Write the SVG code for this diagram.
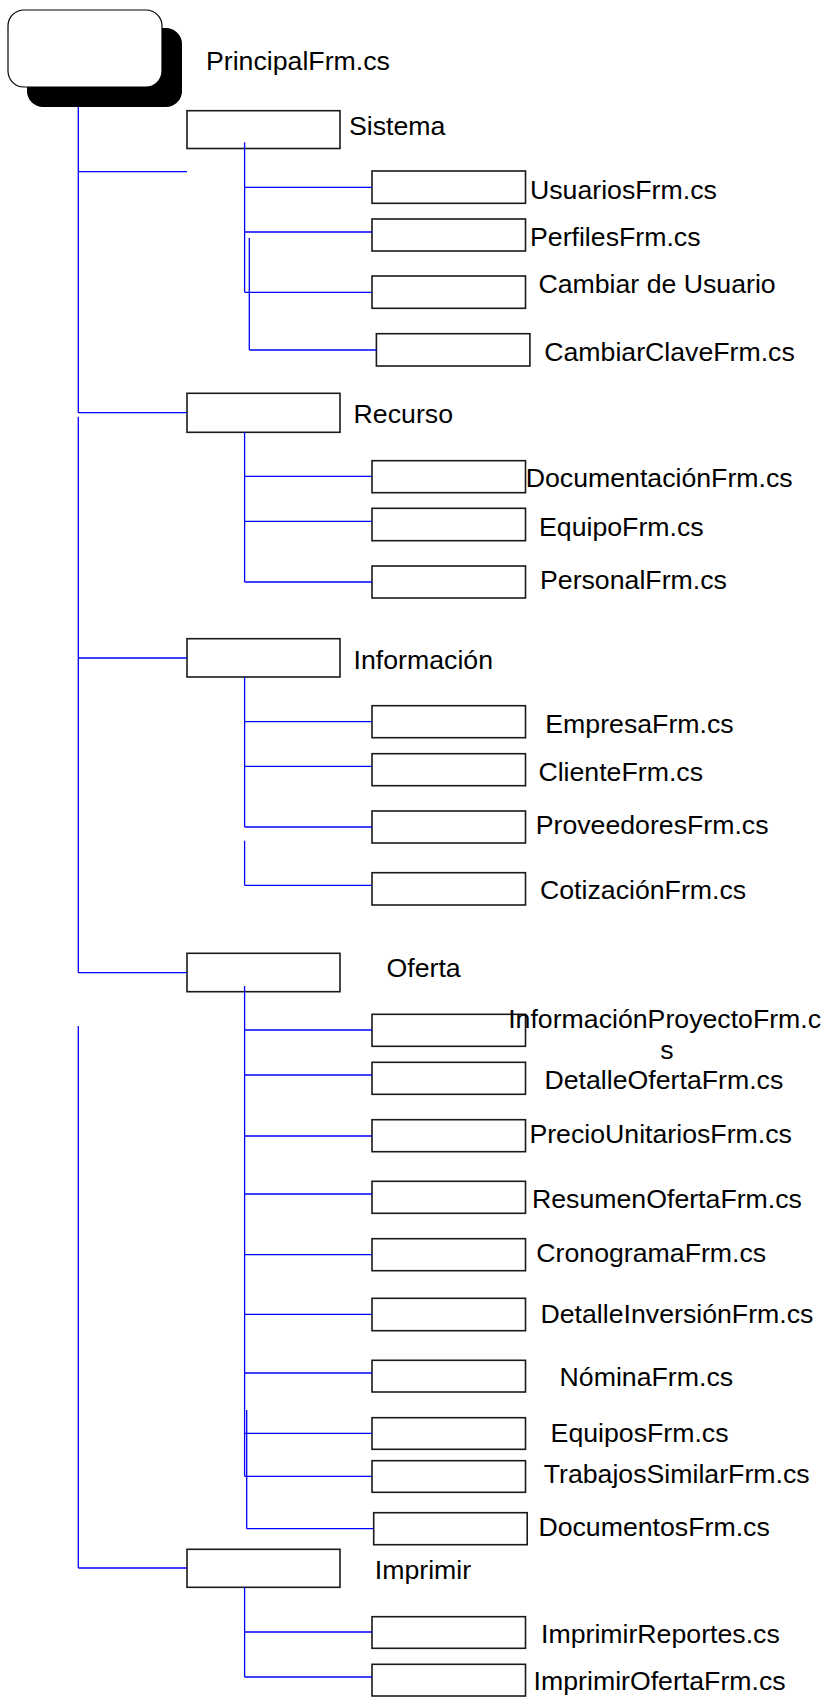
<svg xmlns="http://www.w3.org/2000/svg" width="830" height="1697" viewBox="0 0 830 1697">
<style>
.b{fill:#fff;stroke:#1a1a1a;stroke-width:1.6}
.t{font-family:"Liberation Sans",Arial,sans-serif;font-size:26.7px;fill:#000}
.c line{stroke:#0000ff;stroke-width:1.3}
</style>
<rect width="830" height="1697" fill="#fff"/>
<g id="root">
<rect x="27" y="28" width="155" height="79" rx="16" fill="#000"/>
<rect x="8" y="10" width="154" height="77" rx="16" fill="#fff" stroke="#000" stroke-width="1.2"/>
<text class="t" x="206" y="70">PrincipalFrm.cs</text>
</g>
<g id="sistema"><rect class="b" x="187" y="110.7" width="153" height="37.8"/><text class="t" x="349" y="135">Sistema</text></g>
<g id="usuarios"><rect class="b" x="372" y="171" width="153.5" height="32.3"/><text class="t" x="530" y="199">UsuariosFrm.cs</text></g>
<g id="perfiles"><rect class="b" x="372" y="219" width="153.5" height="32"/><text class="t" x="530" y="246">PerfilesFrm.cs</text></g>
<g id="cambiarusuario"><rect class="b" x="372" y="276" width="153.5" height="32.3"/><text class="t" x="538.4" y="293.3">Cambiar de Usuario</text></g>
<g id="cambiarclave"><rect class="b" x="376.4" y="333.7" width="153.5" height="32.3"/><text class="t" x="544.2" y="360.7">CambiarClaveFrm.cs</text></g>
<g id="recurso"><rect class="b" x="187" y="393.3" width="153" height="39"/><text class="t" x="353.6" y="423.3">Recurso</text></g>
<g id="documentacion"><rect class="b" x="372" y="460.7" width="153.5" height="32"/><text class="t" x="525.7" y="486.7">DocumentaciónFrm.cs</text></g>
<g id="equipo"><rect class="b" x="372" y="508.3" width="153.5" height="32.4"/><text class="t" x="539" y="535.7">EquipoFrm.cs</text></g>
<g id="personal"><rect class="b" x="372" y="566" width="153.5" height="32"/><text class="t" x="540" y="589">PersonalFrm.cs</text></g>
<g id="informacion"><rect class="b" x="187" y="638.7" width="153" height="38.3"/><text class="t" x="353.6" y="669.3">Información</text></g>
<g id="empresa"><rect class="b" x="372" y="705.7" width="153.5" height="32"/><text class="t" x="545.3" y="732.7">EmpresaFrm.cs</text></g>
<g id="cliente"><rect class="b" x="372" y="753.7" width="153.5" height="32"/><text class="t" x="538.4" y="780.7">ClienteFrm.cs</text></g>
<g id="proveedores"><rect class="b" x="372" y="811" width="153.5" height="32"/><text class="t" x="535.7" y="834">ProveedoresFrm.cs</text></g>
<g id="cotizacion"><rect class="b" x="372" y="872.7" width="153.5" height="32.3"/><text class="t" x="540" y="898.7">CotizaciónFrm.cs</text></g>
<g id="oferta"><rect class="b" x="187" y="953.3" width="153" height="38.4"/><text class="t" x="386.5" y="977.3">Oferta</text></g>
<g id="infoproyecto"><rect class="b" x="372" y="1014.3" width="153.5" height="32"/><text class="t" x="508.2" y="1028.3">InformaciónProyectoFrm.c</text><text class="t" x="667" y="1059.3" text-anchor="middle">s</text></g>
<g id="detalleoferta"><rect class="b" x="372" y="1062.3" width="153.5" height="32"/><text class="t" x="544.5" y="1089">DetalleOfertaFrm.cs</text></g>
<g id="preciounitarios"><rect class="b" x="372" y="1119.7" width="153.5" height="32"/><text class="t" x="529.4" y="1143.3">PrecioUnitariosFrm.cs</text></g>
<g id="resumenoferta"><rect class="b" x="372" y="1181.3" width="153.5" height="32"/><text class="t" x="532" y="1207.7">ResumenOfertaFrm.cs</text></g>
<g id="cronograma"><rect class="b" x="372" y="1238.7" width="153.5" height="32"/><text class="t" x="536.3" y="1262.3">CronogramaFrm.cs</text></g>
<g id="detalleinversion"><rect class="b" x="372" y="1298.3" width="153.5" height="32.4"/><text class="t" x="540.5" y="1323.3">DetalleInversiónFrm.cs</text></g>
<g id="nomina"><rect class="b" x="372" y="1360.3" width="153.5" height="31.7"/><text class="t" x="559.6" y="1386">NóminaFrm.cs</text></g>
<g id="equipos"><rect class="b" x="372" y="1417.7" width="153.5" height="31.6"/><text class="t" x="550.6" y="1441.7">EquiposFrm.cs</text></g>
<g id="trabajos"><rect class="b" x="372" y="1460.7" width="153.5" height="31.6"/><text class="t" x="543.7" y="1483.3">TrabajosSimilarFrm.cs</text></g>
<g id="documentos"><rect class="b" x="373.7" y="1512.7" width="153.5" height="32"/><text class="t" x="538.4" y="1536">DocumentosFrm.cs</text></g>
<g id="imprimir"><rect class="b" x="187" y="1549.3" width="153" height="38"/><text class="t" x="374.8" y="1579.3">Imprimir</text></g>
<g id="imprimirreportes"><rect class="b" x="372" y="1616.7" width="153.5" height="31.6"/><text class="t" x="541" y="1642.7">ImprimirReportes.cs</text></g>
<g id="imprimiroferta"><rect class="b" x="372" y="1664.3" width="153.5" height="31.7"/><text class="t" x="533.6" y="1690">ImprimirOfertaFrm.cs</text></g>
<g id="connectors" class="c">
<line x1="78.3" y1="107" x2="78.3" y2="413"/>
<line x1="78.3" y1="416.7" x2="78.3" y2="972.7"/>
<line x1="78.3" y1="1026" x2="78.3" y2="1568"/>
<line x1="78.3" y1="171.7" x2="187" y2="171.7"/>
<line x1="78.3" y1="412.7" x2="187" y2="412.7"/>
<line x1="78.3" y1="658" x2="187" y2="658"/>
<line x1="78.3" y1="972.7" x2="187" y2="972.7"/>
<line x1="78.3" y1="1568" x2="187" y2="1568"/>
<line x1="244.6" y1="142.3" x2="244.6" y2="292.3"/>
<line x1="244.6" y1="187.3" x2="372" y2="187.3"/>
<line x1="244.6" y1="232" x2="372" y2="232"/>
<line x1="244.6" y1="292.3" x2="372" y2="292.3"/>
<line x1="249.3" y1="238" x2="249.3" y2="350"/>
<line x1="249.3" y1="350" x2="376.4" y2="350"/>
<line x1="244.6" y1="432.3" x2="244.6" y2="582"/>
<line x1="244.6" y1="476.3" x2="372" y2="476.3"/>
<line x1="244.6" y1="521.3" x2="372" y2="521.3"/>
<line x1="244.6" y1="582" x2="372" y2="582"/>
<line x1="244.6" y1="677" x2="244.6" y2="827"/>
<line x1="244.6" y1="721.7" x2="372" y2="721.7"/>
<line x1="244.6" y1="766.3" x2="372" y2="766.3"/>
<line x1="244.6" y1="827" x2="372" y2="827"/>
<line x1="244.6" y1="840.7" x2="244.6" y2="885.3"/>
<line x1="244.6" y1="885.3" x2="372" y2="885.3"/>
<line x1="244.6" y1="986" x2="244.6" y2="1476.3"/>
<line x1="244.6" y1="1030" x2="372" y2="1030"/>
<line x1="244.6" y1="1075" x2="372" y2="1075"/>
<line x1="244.6" y1="1136" x2="372" y2="1136"/>
<line x1="244.6" y1="1194" x2="372" y2="1194"/>
<line x1="244.6" y1="1254.7" x2="372" y2="1254.7"/>
<line x1="244.6" y1="1314.3" x2="372" y2="1314.3"/>
<line x1="244.6" y1="1373" x2="372" y2="1373"/>
<line x1="244.6" y1="1433.3" x2="372" y2="1433.3"/>
<line x1="244.6" y1="1476.3" x2="372" y2="1476.3"/>
<line x1="246.7" y1="1410" x2="246.7" y2="1528.7"/>
<line x1="246.7" y1="1528.7" x2="373.7" y2="1528.7"/>
<line x1="244.6" y1="1587.3" x2="244.6" y2="1677"/>
<line x1="244.6" y1="1632" x2="372" y2="1632"/>
<line x1="244.6" y1="1677" x2="372" y2="1677"/>
</g>
</svg>
